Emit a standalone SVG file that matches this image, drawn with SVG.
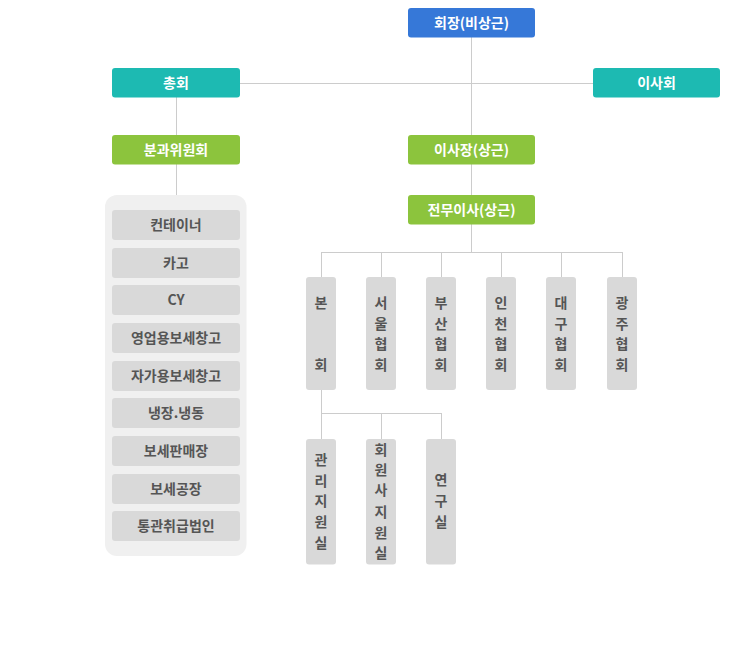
<svg xmlns="http://www.w3.org/2000/svg" width="730" height="669" viewBox="0 0 730 669">
<style>
.t{font-family:"Noto Sans CJK KR","Noto Sans",sans-serif;font-size:14px;font-weight:bold;text-anchor:middle}
.w{fill:#ffffff}
.g{fill:#555555}
.blue{fill:#3678d8}
.teal{fill:#1dbab2}
.green{fill:#8cc43d}
.gray{fill:#d9d9d9}
.ln{stroke:#cccccc;stroke-width:1;fill:none}
</style>
<rect width="730" height="669" fill="#ffffff"/>
<g id="connectors">
<path class="ln" d="M471.5 37V135M240 83.5H593M176.5 97V135M176.5 164V195M471.5 164V195M471.5 224V252.5M321.5 252.5H622.5M321.5 252V277M381.5 252V277M441.5 252V277M501.5 252V277M561.5 252V277M622.5 252V277M321.5 390V439M321.5 413.5H441.5M381.5 413V439M441.5 413V439"/>
</g>
<g id="n-chair"><rect class="blue" x="408" y="8" width="127" height="29.5" rx="3"/><text class="t w" x="471.5" y="28">회장(비상근)</text></g>
<g id="n-general"><rect class="teal" x="112" y="68" width="128" height="29.5" rx="3"/><text class="t w" x="176" y="88">총회</text></g>
<g id="n-board"><rect class="teal" x="593" y="68" width="127" height="29.5" rx="3"/><text class="t w" x="656.5" y="88">이사회</text></g>
<g id="n-committee"><rect class="green" x="112" y="135" width="128" height="29.5" rx="3"/><text class="t w" x="176" y="155">분과위원회</text></g>
<g id="n-president"><rect class="green" x="408" y="135" width="127" height="29.5" rx="3"/><text class="t w" x="471.5" y="155">이사장(상근)</text></g>
<g id="n-director"><rect class="green" x="408" y="195" width="127" height="29.5" rx="3"/><text class="t w" x="471.5" y="215">전무이사(상근)</text></g>
<g id="n-panel">
<rect x="105" y="195" width="141.5" height="361" rx="12" fill="#f0f0f0"/>
<g id="n-c1"><rect class="gray" x="112" y="210" width="128" height="30" rx="3"/><text class="t g" x="176" y="230">컨테이너</text></g>
<g id="n-c2"><rect class="gray" x="112" y="248" width="128" height="30" rx="3"/><text class="t g" x="176" y="268">카고</text></g>
<g id="n-c3"><rect class="gray" x="112" y="285" width="128" height="30" rx="3"/><text class="t g" x="176" y="305">CY</text></g>
<g id="n-c4"><rect class="gray" x="112" y="323" width="128" height="30" rx="3"/><text class="t g" x="176" y="343">영업용보세창고</text></g>
<g id="n-c5"><rect class="gray" x="112" y="361" width="128" height="30" rx="3"/><text class="t g" x="176" y="381">자가용보세창고</text></g>
<g id="n-c6"><rect class="gray" x="112" y="398" width="128" height="30" rx="3"/><text class="t g" x="176" y="418">냉장.냉동</text></g>
<g id="n-c7"><rect class="gray" x="112" y="436" width="128" height="30" rx="3"/><text class="t g" x="176" y="456">보세판매장</text></g>
<g id="n-c8"><rect class="gray" x="112" y="474" width="128" height="30" rx="3"/><text class="t g" x="176" y="494">보세공장</text></g>
<g id="n-c9"><rect class="gray" x="112" y="511" width="128" height="30" rx="3"/><text class="t g" x="176" y="531">통관취급법인</text></g>
</g>
<g id="n-hq"><rect class="gray" x="306" y="277" width="30" height="113" rx="3"/><text class="t g"><tspan x="321" y="308">본</tspan><tspan x="321" y="370">회</tspan></text></g>
<g id="n-seoul"><rect class="gray" x="366" y="277" width="30" height="113" rx="3"/><text class="t g"><tspan x="381" y="308">서</tspan><tspan x="381" y="328.7">울</tspan><tspan x="381" y="349.4">협</tspan><tspan x="381" y="370">회</tspan></text></g>
<g id="n-busan"><rect class="gray" x="426" y="277" width="30" height="113" rx="3"/><text class="t g"><tspan x="441" y="308">부</tspan><tspan x="441" y="328.7">산</tspan><tspan x="441" y="349.4">협</tspan><tspan x="441" y="370">회</tspan></text></g>
<g id="n-incheon"><rect class="gray" x="486" y="277" width="30" height="113" rx="3"/><text class="t g"><tspan x="501" y="308">인</tspan><tspan x="501" y="328.7">천</tspan><tspan x="501" y="349.4">협</tspan><tspan x="501" y="370">회</tspan></text></g>
<g id="n-daegu"><rect class="gray" x="546" y="277" width="30" height="113" rx="3"/><text class="t g"><tspan x="561" y="308">대</tspan><tspan x="561" y="328.7">구</tspan><tspan x="561" y="349.4">협</tspan><tspan x="561" y="370">회</tspan></text></g>
<g id="n-gwangju"><rect class="gray" x="607" y="277" width="30" height="113" rx="3"/><text class="t g"><tspan x="622" y="308">광</tspan><tspan x="622" y="328.7">주</tspan><tspan x="622" y="349.4">협</tspan><tspan x="622" y="370">회</tspan></text></g>
<g id="n-admin"><rect class="gray" x="306" y="439" width="30" height="125.5" rx="3"/><text class="t g"><tspan x="321" y="465">관</tspan><tspan x="321" y="485.7">리</tspan><tspan x="321" y="506.4">지</tspan><tspan x="321" y="527.1">원</tspan><tspan x="321" y="547.8">실</tspan></text></g>
<g id="n-member"><rect class="gray" x="366" y="439" width="30" height="125.5" rx="3"/><text class="t g"><tspan x="381" y="455">회</tspan><tspan x="381" y="475.2">원</tspan><tspan x="381" y="495.4">사</tspan><tspan x="381" y="516.6">지</tspan><tspan x="381" y="537.8">원</tspan><tspan x="381" y="558">실</tspan></text></g>
<g id="n-research"><rect class="gray" x="426" y="439" width="30" height="125.5" rx="3"/><text class="t g"><tspan x="441" y="485">연</tspan><tspan x="441" y="506.4">구</tspan><tspan x="441" y="527.1">실</tspan></text></g>
</svg>
